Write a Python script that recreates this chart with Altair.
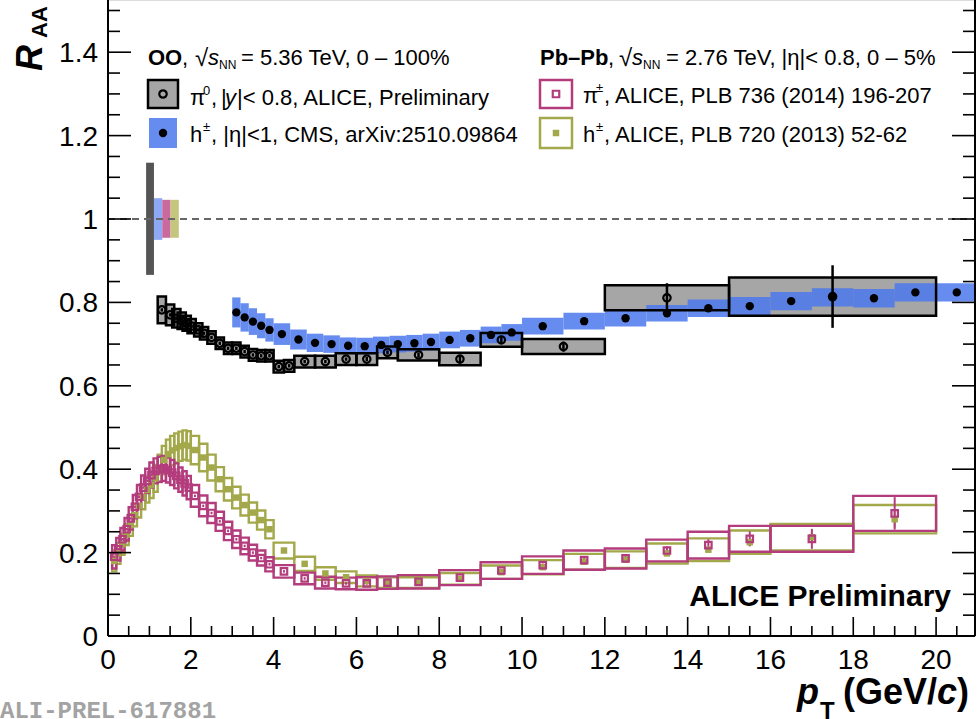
import altair as alt
import pandas as pd

# ---------------- data ----------------
# OO pi0 (ALICE preliminary)
pi0_pt = [1.3, 1.5, 1.65, 1.78, 1.9, 2.02, 2.18, 2.32, 2.5, 2.7, 2.9, 3.1, 3.3, 3.5, 3.7, 3.9,
          4.125, 4.375, 4.75, 5.25, 5.75, 6.25, 6.75, 7.5, 8.5, 9.5, 11.0, 13.5, 17.5]
pi0_hw = [0.1, 0.1, 0.1, 0.1, 0.1, 0.1, 0.1, 0.1, 0.1, 0.1, 0.1, 0.1, 0.1, 0.1, 0.1, 0.1,
          0.125, 0.125, 0.25, 0.25, 0.25, 0.25, 0.25, 0.5, 0.5, 0.5, 1.0, 1.5, 2.5]
pi0_R = [0.782, 0.770, 0.762, 0.756, 0.750, 0.743, 0.734, 0.726, 0.716, 0.702, 0.690, 0.690, 0.682,
         0.674, 0.672, 0.672, 0.646, 0.648, 0.658, 0.658, 0.664, 0.664, 0.680, 0.674, 0.664, 0.710,
         0.694, 0.811, 0.814]
pi0_sys = [0.032, 0.025, 0.022, 0.020, 0.018, 0.017, 0.016, 0.015, 0.015, 0.014, 0.014, 0.014, 0.014,
           0.014, 0.014, 0.014, 0.014, 0.014, 0.014, 0.014, 0.014, 0.014, 0.014, 0.0135, 0.015, 0.0165,
           0.018, 0.030, 0.046]
pi0_stat = [0.004, 0.004, 0.004, 0.004, 0.004, 0.004, 0.004, 0.004, 0.004, 0.004, 0.004, 0.004, 0.004,
            0.004, 0.004, 0.004, 0.004, 0.004, 0.004, 0.004, 0.004, 0.005, 0.005, 0.006, 0.008, 0.010,
            0.012, 0.035, 0.075]

# OO h+- (CMS)
cms_pt = [3.1, 3.3, 3.5, 3.7, 3.9, 4.2, 4.6, 5.0, 5.4, 5.8, 6.2, 6.6, 7.0, 7.4, 7.8, 8.25, 8.75, 9.25,
          9.75, 10.5, 11.5, 12.5, 13.5, 14.5, 15.5, 16.5, 17.5, 18.5, 19.5, 20.5]
cms_hw = [0.1, 0.1, 0.1, 0.1, 0.1, 0.2, 0.2, 0.2, 0.2, 0.2, 0.2, 0.2, 0.2, 0.2, 0.2, 0.25, 0.25, 0.25,
          0.25, 0.5, 0.5, 0.5, 0.5, 0.5, 0.5, 0.5, 0.5, 0.5, 0.5, 0.5]
cms_R = [0.776, 0.764, 0.754, 0.744, 0.734, 0.724, 0.711, 0.703, 0.700, 0.696, 0.695, 0.698, 0.700,
         0.702, 0.705, 0.710, 0.714, 0.722, 0.728, 0.743, 0.755, 0.762, 0.774, 0.786, 0.791, 0.803,
         0.812, 0.810, 0.824, 0.824]
cms_sys = [0.036, 0.034, 0.032, 0.030, 0.028, 0.026, 0.024, 0.022, 0.021, 0.020, 0.020, 0.020, 0.020,
           0.020, 0.020, 0.020, 0.020, 0.020, 0.020, 0.020, 0.020, 0.020, 0.020, 0.021, 0.022, 0.022,
           0.022, 0.022, 0.022, 0.022]

# Pb-Pb pi+- and h+- (ALICE)
pb_pt = [0.15, 0.25, 0.35, 0.45, 0.55, 0.65, 0.75, 0.85, 0.95, 1.05, 1.15, 1.25, 1.35, 1.45, 1.55,
         1.65, 1.75, 1.85, 1.95, 2.1, 2.3, 2.5, 2.7, 2.9, 3.1, 3.3, 3.5, 3.7, 3.9,
         4.25, 4.75, 5.25, 5.75, 6.25, 6.75, 7.5, 8.5, 9.5, 10.5, 11.5, 12.5, 13.5, 14.5, 15.5, 17.0, 19.0]
pb_hw = [0.05, 0.05, 0.05, 0.05, 0.05, 0.05, 0.05, 0.05, 0.05, 0.05, 0.05, 0.05, 0.05, 0.05, 0.05,
         0.05, 0.05, 0.05, 0.05, 0.1, 0.1, 0.1, 0.1, 0.1, 0.1, 0.1, 0.1, 0.1, 0.1,
         0.25, 0.25, 0.25, 0.25, 0.25, 0.25, 0.5, 0.5, 0.5, 0.5, 0.5, 0.5, 0.5, 0.5, 0.5, 1.0, 1.0]
pipm_R = [0.190, 0.208, 0.232, 0.256, 0.282, 0.310, 0.334, 0.356, 0.372, 0.386, 0.396, 0.400, 0.402,
          0.398, 0.392, 0.384, 0.375, 0.366, 0.356, 0.336, 0.312, 0.295, 0.275, 0.252, 0.232, 0.216,
          0.200, 0.187, 0.172, 0.155, 0.138, 0.128, 0.126, 0.126, 0.128, 0.130, 0.140, 0.157, 0.170,
          0.182, 0.186, 0.205, 0.218, 0.233, 0.233, 0.294]
pipm_sys = [0.028, 0.027, 0.027, 0.027, 0.027, 0.028, 0.028, 0.029, 0.029, 0.030, 0.030, 0.030, 0.030,
            0.030, 0.030, 0.030, 0.029, 0.029, 0.028, 0.026, 0.025, 0.024, 0.023, 0.022, 0.021, 0.020,
            0.019, 0.018, 0.017, 0.015, 0.014, 0.014, 0.014, 0.015, 0.015, 0.016, 0.018, 0.020, 0.021,
            0.023, 0.024, 0.026, 0.032, 0.031, 0.031, 0.042]
pipm_stat = [0.003, 0.003, 0.003, 0.003, 0.003, 0.003, 0.003, 0.003, 0.003, 0.003, 0.003, 0.003, 0.003,
             0.003, 0.003, 0.003, 0.003, 0.003, 0.003, 0.003, 0.003, 0.003, 0.003, 0.003, 0.003, 0.003,
             0.003, 0.003, 0.003, 0.003, 0.003, 0.003, 0.003, 0.003, 0.003, 0.003, 0.003, 0.004, 0.004,
             0.005, 0.006, 0.010, 0.014, 0.018, 0.024, 0.039]
hpb_R = [0.180, 0.198, 0.220, 0.243, 0.266, 0.290, 0.312, 0.333, 0.350, 0.362, 0.378, 0.402, 0.422,
         0.436, 0.445, 0.451, 0.455, 0.458, 0.456, 0.446, 0.428, 0.404, 0.376, 0.352, 0.332, 0.314,
         0.296, 0.278, 0.256, 0.205, 0.173, 0.150, 0.141, 0.132, 0.128, 0.128, 0.137, 0.153, 0.165,
         0.178, 0.183, 0.198, 0.207, 0.225, 0.237, 0.280]
hpb_sys = [0.025, 0.025, 0.025, 0.025, 0.026, 0.027, 0.028, 0.029, 0.030, 0.031, 0.032, 0.033, 0.034,
           0.035, 0.035, 0.035, 0.035, 0.035, 0.035, 0.034, 0.033, 0.031, 0.029, 0.027, 0.026, 0.025,
           0.024, 0.023, 0.022, 0.019, 0.017, 0.015, 0.014, 0.013, 0.013, 0.013, 0.014, 0.016, 0.017,
           0.019, 0.020, 0.024, 0.027, 0.028, 0.032, 0.034]
hpb_stat = [0.002, 0.002, 0.002, 0.002, 0.002, 0.002, 0.002, 0.002, 0.002, 0.002, 0.002, 0.002, 0.002,
            0.002, 0.002, 0.002, 0.002, 0.002, 0.002, 0.002, 0.002, 0.002, 0.002, 0.002, 0.002, 0.002,
            0.002, 0.002, 0.002, 0.002, 0.002, 0.002, 0.002, 0.002, 0.002, 0.002, 0.002, 0.002, 0.003,
            0.003, 0.004, 0.005, 0.006, 0.008, 0.012, 0.020]

# normalisation uncertainty boxes around unity
norm_lo_x = [0.92, 1.11, 1.31, 1.51]
norm_hi_x = [1.11, 1.31, 1.51, 1.71]
norm_lo = [0.866, 0.950, 0.955, 0.955]
norm_hi = [1.135, 1.050, 1.046, 1.046]
norm_col = ["#555555", "#8ea8f3", "#c9699d", "#c3c67c"]
unity = [1.0]

# axis ticks and labels
x_major = [0, 2, 4, 6, 8, 10, 12, 14, 16, 18, 20]
x_labels = ["0", "2", "4", "6", "8", "10", "12", "14", "16", "18", "20"]
x_minor = [v / 2 for v in range(0, 42) if v % 4 != 0]
y_major = [0, 0.2, 0.4, 0.6, 0.8, 1, 1.2, 1.4]
y_labels = ["0", "0.2", "0.4", "0.6", "0.8", "1", "1.2", "1.4"]
y_minor = [v / 20 for v in range(0, 31) if v % 4 != 0]

# ---------------- style ----------------
X0 = 108
W, H = 867, 636
FONT = "Liberation Sans"
BLUE = "#4a78eb"
MAG = "#b33c7d"
OLI = "#a3a84a"
GREY = "#a6a6a6"

xs = alt.Scale(domain=[0, 20.94], nice=False, zero=False)
ys = alt.Scale(domain=[0, 1.5252], nice=False, zero=False)


def frame(x, xw, y, e):
    return pd.DataFrame({"x": x, "lo": [a - b for a, b in zip(x, xw)], "hi": [a + b for a, b in zip(x, xw)],
                         "y": y, "ylo": [a - b for a, b in zip(y, e)], "yhi": [a + b for a, b in zip(y, e)]})


pi0_box = frame(pi0_pt, pi0_hw, pi0_R, pi0_sys)
pi0_st = frame(pi0_pt, pi0_hw, pi0_R, pi0_stat)
cms_box = frame(cms_pt, cms_hw, cms_R, cms_sys)
pim_box = frame(pb_pt, pb_hw, pipm_R, pipm_sys)
pim_st = frame(pb_pt, pb_hw, pipm_R, pipm_stat)
hpb_box = frame(pb_pt, pb_hw, hpb_R, hpb_sys)
hpb_st = frame(pb_pt, pb_hw, hpb_R, hpb_stat)
norm_df = pd.DataFrame({"lo": norm_lo_x, "hi": norm_hi_x, "ylo": norm_lo, "yhi": norm_hi, "c": norm_col})


def rects(df, **kw):
    return alt.Chart(df).mark_rect(**kw).encode(
        x=alt.X("lo:Q", scale=xs, axis=None), x2="hi:Q",
        y=alt.Y("ylo:Q", scale=ys, axis=None), y2="yhi:Q")


def errbars(df, color, width):
    return alt.Chart(df).mark_rule(color=color, strokeWidth=width).encode(
        x=alt.X("x:Q", scale=xs, axis=None),
        y=alt.Y("ylo:Q", scale=ys, axis=None), y2="yhi:Q")


def points(df, mark):
    return mark.encode(x=alt.X("x:Q", scale=xs, axis=None), y=alt.Y("y:Q", scale=ys, axis=None))


layers = []
layers.append(rects(pi0_box, color=GREY, opacity=1))
layers.append(alt.Chart(norm_df).mark_rect(opacity=1).encode(
    x=alt.X("lo:Q", scale=xs, axis=None), x2="hi:Q",
    y=alt.Y("ylo:Q", scale=ys, axis=None), y2="yhi:Q",
    color=alt.Color("c:N", scale=None)))
layers.append(alt.Chart(pd.DataFrame({"u": unity})).mark_rule(
    color="#666666", strokeWidth=2, strokeDash=[7, 5]).encode(
    y=alt.Y("u:Q", scale=ys, axis=None), x=alt.value(0), x2=alt.value(W)))
# Pb-Pb boxes
layers.append(rects(hpb_box, fillOpacity=0, stroke=OLI, strokeWidth=2.4))
layers.append(rects(pim_box, fillOpacity=0, stroke=MAG, strokeWidth=2.4))
# CMS band
layers.append(rects(cms_box, color=BLUE, opacity=0.85, clip=True))
# pi0 outlines
layers.append(rects(pi0_box, fillOpacity=0, stroke="black", strokeWidth=2.5))
# stat error bars
layers.append(errbars(hpb_st, OLI, 2))
layers.append(errbars(pim_st, MAG, 2))
layers.append(errbars(pi0_st, "black", 2.5))
# markers
layers.append(points(hpb_st, alt.Chart(hpb_st).mark_square(size=42, color=OLI, opacity=1)))
layers.append(points(pim_st, alt.Chart(pim_st).mark_point(shape="square", size=42, filled=False,
                                                           color=MAG, strokeWidth=2.2, opacity=1)))
cms_df = pd.DataFrame({"x": cms_pt, "y": cms_R})
layers.append(points(cms_df, alt.Chart(cms_df).mark_circle(size=70, color="black", opacity=1, clip=True)))
layers.append(points(pi0_st, alt.Chart(pi0_st).mark_point(shape="circle", size=55, filled=False,
                                                           color="black", strokeWidth=2.2, opacity=1)))


# ---------------- frame, ticks (inward, ROOT style), tick labels ----------------
def xticks(vals, length):
    return alt.Chart(pd.DataFrame({"v": vals})).mark_rule(color="black", strokeWidth=1.6).encode(
        x=alt.X("v:Q", scale=xs, axis=None), y=alt.value(H), y2=alt.value(H - length))


def yticks(vals, length, right=False):
    x1 = W if right else 0
    x2 = W - length if right else length
    return alt.Chart(pd.DataFrame({"v": vals})).mark_rule(color="black", strokeWidth=1.6).encode(
        y=alt.Y("v:Q", scale=ys, axis=None), x=alt.value(x1), x2=alt.value(x2))


def frame_line(x1, x2, y1, y2):
    return alt.Chart(pd.DataFrame({"u": unity})).mark_rule(color="black", strokeWidth=2).encode(
        x=alt.value(x1), x2=alt.value(x2), y=alt.value(y1), y2=alt.value(y2))


layers += [xticks(x_major, 19), xticks(x_minor, 10),
           yticks(y_major, 23), yticks(y_minor, 12),
           yticks(y_major, 23, True), yticks(y_minor, 12, True),
           frame_line(0, 0, 0, H), frame_line(W, W, 0, H), frame_line(0, W, H, H)]

layers.append(alt.Chart(pd.DataFrame({"v": x_major, "t": x_labels})).mark_text(
    fontSize=28, font=FONT, color="black", align="center", baseline="alphabetic").encode(
    x=alt.X("v:Q", scale=xs, axis=None), y=alt.value(H + 33), text="t:N"))
layers.append(alt.Chart(pd.DataFrame({"v": y_major, "t": y_labels})).mark_text(
    fontSize=28, font=FONT, color="black", align="right", baseline="alphabetic", dy=10).encode(
    y=alt.Y("v:Q", scale=ys, axis=None), x=alt.value(-10), text="t:N"))


# ---------------- text & legend ----------------
def txt(t, x, y, size=22, weight="normal", style="normal", align="left", baseline="alphabetic",
        color="black", font=FONT, angle=0):
    return alt.Chart(pd.DataFrame({"t": [t]})).mark_text(
        align=align, baseline=baseline, fontSize=size, fontWeight=weight, fontStyle=style,
        font=font, color=color, angle=angle).encode(text="t:N", x=alt.value(x - X0), y=alt.value(y))


def box(x1, x2, y1, y2, **kw):
    return alt.Chart(pd.DataFrame({"u": unity})).mark_rect(**kw).encode(
        x=alt.value(x1 - X0), x2=alt.value(x2 - X0), y=alt.value(y1), y2=alt.value(y2))


def sym(x, y, mark):
    return alt.Chart(pd.DataFrame({"u": unity})).mark_point(**mark).encode(
        x=alt.value(x - X0), y=alt.value(y))


texts = [
    # headers
    txt("OO", 148, 65, weight="bold"), txt(",", 182, 65), txt("√", 195, 66, size=24),
    txt("s", 208, 65, style="italic"), txt("NN", 219, 69, size=12),
    txt("= 5.36 TeV, 0 – 100%", 241, 65),
    txt("Pb–Pb", 540, 65, weight="bold"), txt(",", 608, 65), txt("√", 619, 66, size=24),
    txt("s", 632, 65, style="italic"), txt("NN", 643, 69, size=12),
    txt("= 2.76 TeV, |η|< 0.8, 0 – 5%", 666, 65),
    # entries
    txt("π", 190, 105), txt("0", 203, 95, size=13), txt(",", 211, 105), txt("|", 221, 105),
    txt("y", 225, 105, style="italic"), txt("|< 0.8, ALICE, Preliminary", 237, 105),
    txt("h", 190, 142), txt("±", 203, 131, size=13), txt(", |η|<1, CMS, arXiv:2510.09864", 211, 142),
    txt("π", 583, 103), txt("±", 596, 92, size=13), txt(", ALICE, PLB 736 (2014) 196-207", 604, 103),
    txt("h", 583, 142), txt("±", 596, 131, size=13), txt(", ALICE, PLB 720 (2013) 52-62", 604, 142),
    # legend symbols
    box(148, 178, 80, 108, color=GREY, stroke="black", strokeWidth=2.5, opacity=1),
    sym(163, 94, dict(shape="circle", size=55, filled=False, color="black", strokeWidth=2.2, opacity=1)),
    box(149, 177, 118, 148, color=BLUE, opacity=0.85),
    sym(163, 133, dict(shape="circle", size=70, filled=True, color="black", opacity=1)),
    box(540, 572, 80, 108, fillOpacity=0, stroke=MAG, strokeWidth=2.5),
    sym(556, 94, dict(shape="square", size=42, filled=False, color=MAG, strokeWidth=2.2, opacity=1)),
    box(540, 572, 118, 148, fillOpacity=0, stroke=OLI, strokeWidth=2.5),
    sym(556, 133, dict(shape="square", size=42, filled=True, color=OLI, opacity=1)),
    # labels
    txt("ALICE Preliminary", 951, 606, size=30, weight="bold", align="right"),
    txt("R", 42, 71, size=36, weight="bold", style="italic", angle=270),
    txt("AA", 47, 38, size=22, weight="bold", angle=270),
    txt("p", 797, 704, size=36, weight="bold", style="italic"),
    txt("T", 820, 719, size=24, weight="bold"),
    txt("(GeV/", 843, 704, size=36, weight="bold"),
    txt("c", 937, 704, size=36, weight="bold", style="italic"),
    txt(")", 957, 704, size=36, weight="bold"),
    txt("ALI-PREL-617881", 0, 718, size=24, weight="bold", color="#a3a3a3", font="Liberation Mono"),
]

chart = alt.layer(*layers, *texts).properties(
    width=W, height=H,
    autosize=alt.AutoSizeParams(type="none"),
    padding={"left": X0, "top": 0, "right": 979 - X0 - W, "bottom": 719 - H},
).configure_view(stroke=None).configure(background="white")

chart.save("out.html", embed_options={"renderer": "svg", "actions": False})
